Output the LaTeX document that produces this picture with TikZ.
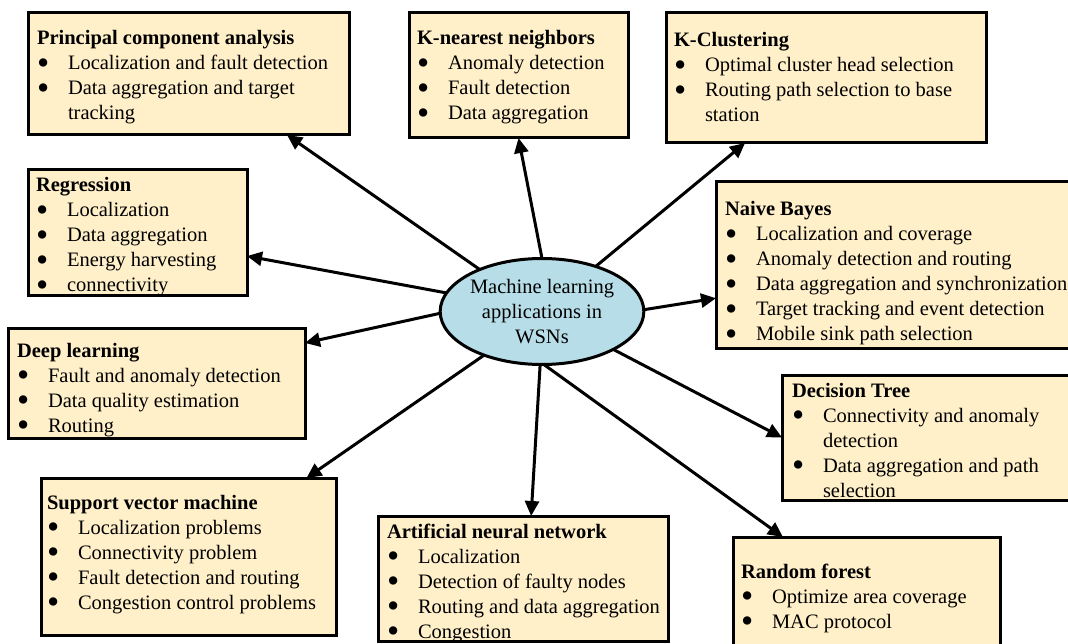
\documentclass[tikz,border=0pt]{standalone}
\usepackage{fontspec}
\setmainfont{Liberation Serif}
\usetikzlibrary{shapes.geometric,arrows.meta,calc}
\definecolor{boxfill}{HTML}{FFF0CA}
\definecolor{ellfill}{HTML}{B7DEE8}

% stacked lines with a fixed 25pt baseline distance; the baseline of the first line is the node's base
\newcommand\boxlines[1]{\vtop{\baselineskip=25pt\lineskiplimit=-100pt\lineskip=0pt\relax #1}}
\newcommand\bigdot{\raisebox{-4.2pt}{\scalebox{1.7}{\textbullet}}}
\newcommand\ttl[1]{\hbox{\bfseries #1}}
\newcommand\itm[1]{\hbox{\makebox[31pt][l]{\bigdot}#1}}
\newcommand\cnt[1]{\hbox{\hspace*{31pt}#1}}

% #1 name, #2 #3 top-left corner, #4 width, #5 height, #6 #7 text origin (first baseline), #8 lines
\newcommand\mlbox[8]{%
  \node[boxbg, minimum width=#4pt, minimum height=#5pt] (#1) at (#2,#3) {};
  \begin{scope}
    \clip (#1.north west) rectangle (#1.south east);
    \node[boxtext] (#1-text) at (#6,#7) {\boxlines{#8}};
  \end{scope}
  \draw[boxline] (#1.north west) rectangle (#1.south east);
}

\tikzset{
  boxbg/.style={rectangle, fill=boxfill, anchor=north west, inner sep=0pt, outer sep=0pt},
  boxtext/.style={anchor=base west, inner sep=0pt, outer sep=0pt, font=\fontsize{20.5}{25}\selectfont, text=black},
  boxline/.style={line width=3pt, line join=miter},
  hub/.style={ellipse, draw, line width=3pt, fill=ellfill, minimum width=201pt, minimum height=106pt,
    inner sep=0pt, outer sep=0pt, align=center, font=\fontsize{20.5}{25}\selectfont},
  arr/.style={line width=3pt, -{Triangle[length=15pt,width=14pt]}}
}

\begin{document}
\begin{tikzpicture}[x=1pt,y=-1pt]
\useasboundingbox (0,0) rectangle (1068,644);

\mlbox{pca}{28}{13}{321}{122}{37}{45}{\ttl{Principal component analysis}\itm{Localization and fault detection}\itm{Data aggregation and target}\cnt{tracking}}
\mlbox{knn}{409}{13}{219}{125}{417}{45}{\ttl{K-nearest neighbors}\itm{Anomaly detection}\itm{Fault detection}\itm{Data aggregation}}
\mlbox{kc}{666}{13}{320}{130}{674}{47}{\ttl{K-Clustering}\itm{Optimal cluster head selection}\itm{Routing path selection to base}\cnt{station}}
\mlbox{reg}{28}{170}{219}{126}{36}{192}{\ttl{Regression}\itm{Localization}\itm{Data aggregation}\itm{Energy harvesting}\itm{connectivity}}
\mlbox{dl}{8}{328}{297}{110}{17}{357}{\ttl{Deep learning}\itm{Fault and anomaly detection}\itm{Data quality estimation}\itm{Routing}}
\mlbox{nb}{716}{182}{359}{166}{725}{216}{\ttl{Naive Bayes}\itm{Localization and coverage}\itm{Anomaly detection and routing}\itm{Data aggregation and synchronization}\itm{Target tracking and event detection}\itm{Mobile sink path selection}}
\mlbox{dt}{782}{375}{293}{125}{792}{397}{\ttl{Decision Tree}\itm{Connectivity and anomaly}\cnt{detection}\itm{Data aggregation and path}\cnt{selection}}
\mlbox{rf}{733}{537}{267}{113}{741}{578}{\ttl{Random forest}\itm{Optimize area coverage}\itm{MAC protocol}}
\mlbox{svm}{41}{478}{295}{157}{47}{509}{\ttl{Support vector machine}\itm{Localization problems}\itm{Connectivity problem}\itm{Fault detection and routing}\itm{Congestion control problems}}
\mlbox{ann}{378}{516}{290}{125}{387}{538}{\ttl{Artificial neural network}\itm{Localization}\itm{Detection of faulty nodes}\itm{Routing and data aggregation}\itm{Congestion}}

\node[hub] (c) at (542,311.5) {Machine learning\\applications in\\WSNs};

\draw[arr] (c.146) -- ($(pca.south west)!0.807!(pca.south east)$);
\draw[arr] (c.90) -- (knn.south);
\draw[arr] (c.40) -- ($(kc.south west)!0.247!(kc.south east)$);
\draw[arr] (c.169) -- ($(reg.north east)!0.683!(reg.south east)$);
\draw[arr] (c.181) -- ($(dl.north east)!0.136!(dl.south east)$);
\draw[arr] (c.1) -- ($(nb.north west)!0.70!(nb.south west)$);
\draw[arr] (c.-28) -- (dt.west);
\draw[arr] (c.-88) -- ($(rf.north west)!0.187!(rf.north east)$);
\draw[arr] (c.-92) -- ($(ann.north west)!0.528!(ann.north east)$);
\draw[arr] (c.-143) -- ($(svm.north west)!0.90!(svm.north east)$);
\end{tikzpicture}
\end{document}
